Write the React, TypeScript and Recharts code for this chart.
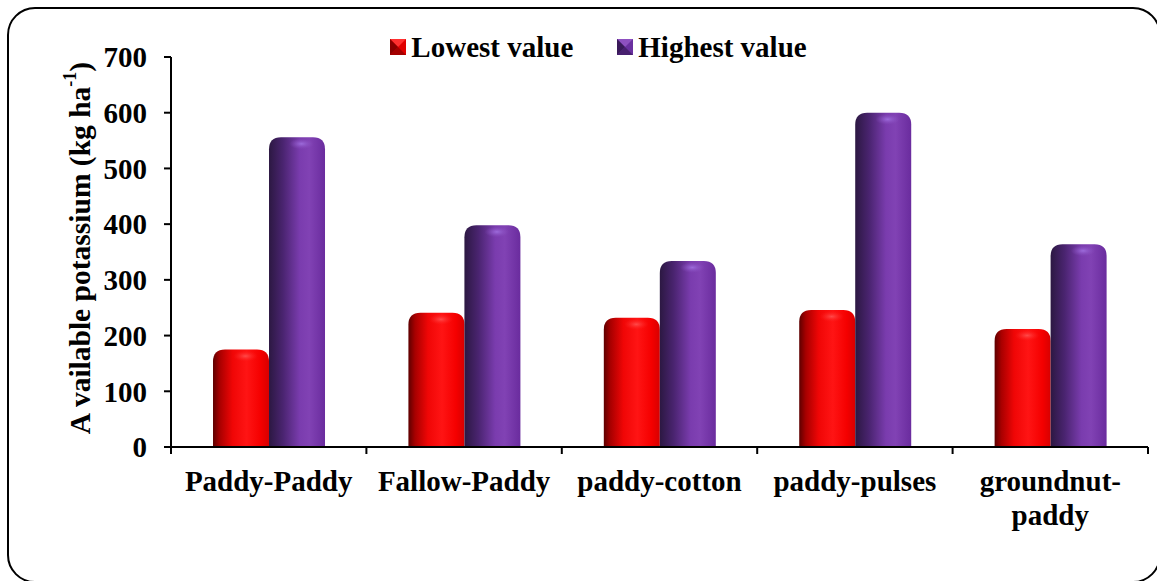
import React from 'react';
import { BarChart, Bar, XAxis, YAxis, Legend } from 'recharts';

// crop sequences
const categories = ['Paddy-Paddy', 'Fallow-Paddy', 'paddy-cotton', 'paddy-pulses', 'groundnut-paddy'];
const tickLabelLines = [['Paddy-Paddy'], ['Fallow-Paddy'], ['paddy-cotton'], ['paddy-pulses'], ['groundnut-', 'paddy']];
const lowestValues = [175, 241, 232, 246, 212];
const highestValues = [556, 398, 334, 600, 364];
const yTicks = [0, 100, 200, 300, 400, 500, 600, 700];
const boundaryTicks = [0, 1, 2, 3, 4, 5];

const data = categories.map((c, i) => ({
  name: c,
  idx: i,
  low: lowestValues[i],
  high: highestValues[i],
}));

const FONT = 'Liberation Serif, Times New Roman, Times, serif';

const CylinderBar = (props: any) => {
  const { x, y, width, height, gradId, hiId } = props;
  if (!height || height <= 0) return null;
  const r = Math.min(12, width / 2, height);
  const d = `M${x},${y + height} L${x},${y + r} Q${x},${y} ${x + r},${y} L${x + width - r},${y} Q${x + width},${y} ${x + width},${y + r} L${x + width},${y + height} Z`;
  return (
    <g>
      <path d={d} fill={`url(#${gradId})`} />
      <ellipse cx={x + width * 0.58} cy={y + r * 0.55} rx={width * 0.22} ry={r * 0.45} fill={`url(#${hiId})`} />
    </g>
  );
};

const CategoryTick = (props: any) => {
  const { x, y, payload } = props;
  const lines = tickLabelLines[payload.index] || [payload.value];
  return (
    <text x={x} y={y} textAnchor="middle" style={{ fontFamily: FONT }} fontWeight="bold" fontSize={29} fill="#000">
      {lines.map((l, i) => (
        <tspan key={i} x={x} dy={i === 0 ? 28 : 34}>{l}</tspan>
      ))}
    </text>
  );
};

const LegendIcon = ({ light, mid, dark }: { light: string; mid: string; dark: string }) => (
  <svg width={16} height={16} style={{ display: 'block' }}>
    <rect x={0} y={0} width={16} height={16} fill={mid} />
    <polygon points="0,0 16,0 8,8" fill={light} />
    <polygon points="0,0 0,16 8,8" fill={dark} />
    <polygon points="0,16 16,16 8,8" fill={dark} opacity={0.7} />
  </svg>
);

const renderLegend = () => (
  <div style={{ display: 'flex', justifyContent: 'center', alignItems: 'center', height: 40, paddingLeft: 40, fontFamily: FONT, fontWeight: 'bold', fontSize: 29, color: '#000' }}>
    <div style={{ display: 'flex', alignItems: 'center', marginRight: 44 }}>
      <LegendIcon light="#ff3030" mid="#e00000" dark="#8a0000" />
      <span style={{ marginLeft: 5 }}>Lowest value</span>
    </div>
    <div style={{ display: 'flex', alignItems: 'center' }}>
      <LegendIcon light="#8e50c0" mid="#6a30a0" dark="#3a1a5a" />
      <span style={{ marginLeft: 5 }}>Highest value</span>
    </div>
  </div>
);

const YLabel = (props: any) => {
  const { viewBox } = props;
  const cx = 80;
  const cy = viewBox.y + viewBox.height / 2 - 4;
  return (
    <text x={cx} y={cy} transform={`rotate(-90 ${cx} ${cy})`} textAnchor="middle" dominantBaseline="central" style={{ fontFamily: FONT }} fontWeight="bold" fontSize={29.5} fill="#000">
      A vailable potassium (kg ha<tspan baseline-shift="super" fontSize={18}>-1</tspan>)
    </text>
  );
};

export default function App() {
  return (
    <div style={{ position: 'absolute', left: 0, top: 0, width: 1157, height: 581, overflow: 'hidden', background: '#fff' }}>
      <div style={{ position: 'absolute', left: 7, top: 7, width: 1154, height: 576, border: '2px solid #000', borderRadius: 28, boxSizing: 'border-box' }} />
      <div style={{ position: 'absolute', left: 0, top: 0 }}>
        <BarChart width={1157} height={581} data={data} margin={{ top: 17, right: 9, bottom: 0, left: 0 }} barCategoryGap="21.5%" barGap={0}>
          <defs>
            <linearGradient id="redGrad" x1="0" y1="0" x2="1" y2="0">
              <stop offset="0%" stopColor="#5e0000" />
              <stop offset="12%" stopColor="#a80000" />
              <stop offset="35%" stopColor="#f00606" />
              <stop offset="60%" stopColor="#ff1414" />
              <stop offset="85%" stopColor="#f50000" />
              <stop offset="100%" stopColor="#d80000" />
            </linearGradient>
            <linearGradient id="purpleGrad" x1="0" y1="0" x2="1" y2="0">
              <stop offset="0%" stopColor="#2c1842" />
              <stop offset="25%" stopColor="#4a2470" />
              <stop offset="55%" stopColor="#7a3cae" />
              <stop offset="72%" stopColor="#8142b4" />
              <stop offset="100%" stopColor="#6a2c9e" />
            </linearGradient>
            <radialGradient id="redHi">
              <stop offset="0%" stopColor="#ff5050" stopOpacity={0.9} />
              <stop offset="100%" stopColor="#ff2020" stopOpacity={0} />
            </radialGradient>
            <radialGradient id="purpleHi">
              <stop offset="0%" stopColor="#a070e0" stopOpacity={0.9} />
              <stop offset="100%" stopColor="#8a50c0" stopOpacity={0} />
            </radialGradient>
          </defs>
          <Legend verticalAlign="top" content={renderLegend} wrapperStyle={{ top: 27, left: 0, width: 1157, height: 40 }} />
          <XAxis xAxisId="bounds" type="number" dataKey="idx" domain={[0, 5]} ticks={boundaryTicks} allowDataOverflow height={8} tick={{ fontSize: 1, fill: 'none' }} tickFormatter={() => ''} tickSize={7} axisLine={{ stroke: '#000', strokeWidth: 2 }} tickLine={{ stroke: '#000', strokeWidth: 2 }} />
          <XAxis xAxisId="cat" dataKey="name" height={126} axisLine={false} tickLine={false} tick={<CategoryTick />} interval={0} />
          <YAxis domain={[0, 700]} ticks={yTicks} width={171} tickSize={7} tickMargin={17} axisLine={{ stroke: '#000', strokeWidth: 2 }} tickLine={{ stroke: '#000', strokeWidth: 2 }} tick={{ fontFamily: FONT, fontWeight: 'bold', fontSize: 29, fill: '#000' }} label={<YLabel />} />
          <Bar xAxisId="cat" dataKey="low" name="Lowest value" isAnimationActive={false} shape={(p: any) => <CylinderBar {...p} gradId="redGrad" hiId="redHi" />} />
          <Bar xAxisId="cat" dataKey="high" name="Highest value" isAnimationActive={false} shape={(p: any) => <CylinderBar {...p} gradId="purpleGrad" hiId="purpleHi" />} />
        </BarChart>
      </div>
    </div>
  );
}
